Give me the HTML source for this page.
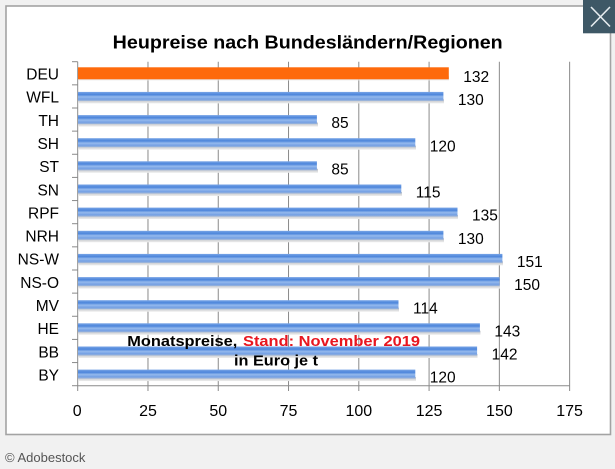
<!DOCTYPE html>
<html>
<head>
<meta charset="utf-8">
<style>
  html,body{margin:0;padding:0;background:#f1f1f1;}
  body{width:615px;height:469px;overflow:hidden;}
  svg{display:block;}
  text{font-family:"Liberation Sans",Arial,sans-serif;}
</style>
</head>
<body>
<svg width="615" height="469" viewBox="0 0 615 469" xmlns="http://www.w3.org/2000/svg">
  <defs>
    <linearGradient id="blue" x1="0" y1="0" x2="0" y2="1">
      <stop offset="0" stop-color="#79a5e6"/>
      <stop offset="0.3" stop-color="#4c85db"/>
      <stop offset="0.55" stop-color="#94b9ed"/>
      <stop offset="0.8" stop-color="#74a0e4"/>
      <stop offset="1" stop-color="#9fb6d8"/>
    </linearGradient>
    <linearGradient id="shadow" x1="0" y1="0" x2="0" y2="1">
      <stop offset="0" stop-color="#b9bcc2"/>
      <stop offset="1" stop-color="#eeeeee"/>
    </linearGradient>
  </defs>
  <rect x="0" y="0" width="615" height="469" fill="#f1f1f1"/>
  <!-- chart box -->
  <rect x="6" y="6" width="604.5" height="428.5" fill="#ffffff" stroke="#a3a3a3" stroke-width="1.6"/>

  <!-- title -->
  <text x="112.7" y="48.3" font-size="18" font-weight="bold" fill="#000" textLength="390" lengthAdjust="spacingAndGlyphs">Heupreise nach  Bundesländern/Regionen</text>

  <!-- gridlines -->
  <g stroke="#8a8a8a" stroke-width="1">
    <line x1="147.98" y1="61.7" x2="147.98" y2="391"/>
    <line x1="218.25" y1="61.7" x2="218.25" y2="391"/>
    <line x1="288.53" y1="61.7" x2="288.53" y2="391"/>
    <line x1="358.8" y1="61.7" x2="358.8" y2="391"/>
    <line x1="429.08" y1="61.7" x2="429.08" y2="391"/>
    <line x1="499.35" y1="61.7" x2="499.35" y2="391"/>
    <line x1="569.63" y1="61.7" x2="569.63" y2="391"/>
    <!-- axes -->
    <line x1="77.7" y1="61.7" x2="77.7" y2="391"/>
    <line x1="77.7" y1="385.7" x2="569.63" y2="385.7"/>
    <!-- left ticks -->
    <line x1="72" y1="61.7" x2="77.7" y2="61.7"/>
    <line x1="72" y1="84.84" x2="77.7" y2="84.84"/>
    <line x1="72" y1="107.99" x2="77.7" y2="107.99"/>
    <line x1="72" y1="131.13" x2="77.7" y2="131.13"/>
    <line x1="72" y1="154.27" x2="77.7" y2="154.27"/>
    <line x1="72" y1="177.41" x2="77.7" y2="177.41"/>
    <line x1="72" y1="200.56" x2="77.7" y2="200.56"/>
    <line x1="72" y1="223.7" x2="77.7" y2="223.7"/>
    <line x1="72" y1="246.84" x2="77.7" y2="246.84"/>
    <line x1="72" y1="269.99" x2="77.7" y2="269.99"/>
    <line x1="72" y1="293.13" x2="77.7" y2="293.13"/>
    <line x1="72" y1="316.27" x2="77.7" y2="316.27"/>
    <line x1="72" y1="339.41" x2="77.7" y2="339.41"/>
    <line x1="72" y1="362.56" x2="77.7" y2="362.56"/>
    <line x1="72" y1="385.7" x2="77.7" y2="385.7"/>
  </g>

  <!-- bars -->
  <g>
    <!-- DEU 132 -->
    <rect x="78" y="76.5" width="371" height="4" fill="url(#shadow)" opacity="0.8"/>
    <rect x="78" y="67.3" width="370.8" height="12" fill="#fe6a0c"/>
    <!-- blue bars: centers -->
    <!-- WFL 130 c=96.41 -->
    <rect x="78" y="99.4" width="366" height="4" fill="url(#shadow)"/>
    <rect x="78" y="91.9" width="365.4" height="9" fill="url(#blue)"/>
    <!-- TH 85 c=119.56 -->
    <rect x="78" y="122.6" width="240" height="4" fill="url(#shadow)"/>
    <rect x="78" y="115.1" width="238.9" height="9" fill="url(#blue)"/>
    <!-- SH 120 c=142.7 -->
    <rect x="78" y="145.7" width="338" height="4" fill="url(#shadow)"/>
    <rect x="78" y="138.2" width="337.3" height="9" fill="url(#blue)"/>
    <!-- ST 85 c=165.84 -->
    <rect x="78" y="168.8" width="240" height="4" fill="url(#shadow)"/>
    <rect x="78" y="161.3" width="238.9" height="9" fill="url(#blue)"/>
    <!-- SN 115 c=188.99 -->
    <rect x="78" y="192" width="324" height="4" fill="url(#shadow)"/>
    <rect x="78" y="184.5" width="323.3" height="9" fill="url(#blue)"/>
    <!-- RPF 135 c=212.13 -->
    <rect x="78" y="215.1" width="380" height="4" fill="url(#shadow)"/>
    <rect x="78" y="207.6" width="379.5" height="9" fill="url(#blue)"/>
    <!-- NRH 130 c=235.27 -->
    <rect x="78" y="238.3" width="366" height="4" fill="url(#shadow)"/>
    <rect x="78" y="230.8" width="365.4" height="9" fill="url(#blue)"/>
    <!-- NS-W 151 c=258.41 -->
    <rect x="78" y="261.4" width="425" height="4" fill="url(#shadow)"/>
    <rect x="78" y="253.9" width="424.4" height="9" fill="url(#blue)"/>
    <!-- NS-O 150 c=281.56 -->
    <rect x="78" y="284.6" width="422" height="4" fill="url(#shadow)"/>
    <rect x="78" y="277.1" width="421.6" height="9" fill="url(#blue)"/>
    <!-- MV 114 c=304.7 -->
    <rect x="78" y="307.7" width="321" height="4" fill="url(#shadow)"/>
    <rect x="78" y="300.2" width="320.5" height="9" fill="url(#blue)"/>
    <!-- HE 143 c=327.84 -->
    <rect x="78" y="330.8" width="402.5" height="4" fill="url(#shadow)"/>
    <rect x="78" y="323.3" width="401.9" height="9" fill="url(#blue)"/>
    <!-- BB 142 c=350.99 -->
    <rect x="78" y="354" width="399.5" height="4" fill="url(#shadow)"/>
    <rect x="78" y="346.5" width="399.1" height="9" fill="url(#blue)"/>
    <!-- BY 120 c=374.13 -->
    <rect x="78" y="377.1" width="338" height="4" fill="url(#shadow)"/>
    <rect x="78" y="369.6" width="337.3" height="9" fill="url(#blue)"/>
  </g>

  <!-- category labels -->
  <g font-size="15.5" fill="#000" text-anchor="end">
    <text x="59" y="79.5">DEU</text>
    <text x="59" y="102.7">WFL</text>
    <text x="59" y="125.8">TH</text>
    <text x="59" y="149">SH</text>
    <text x="59" y="172.1">ST</text>
    <text x="59" y="195.3">SN</text>
    <text x="59" y="218.4">RPF</text>
    <text x="59" y="241.5">NRH</text>
    <text x="59" y="264.7">NS-W</text>
    <text x="59" y="287.8">NS-O</text>
    <text x="59" y="311">MV</text>
    <text x="59" y="334.1">HE</text>
    <text x="59" y="357.3">BB</text>
    <text x="59" y="380.4">BY</text>
  </g>

  <!-- value labels -->
  <g font-size="15.5" fill="#000">
    <text x="463.3" y="81.8">132</text>
    <text x="457.9" y="105">130</text>
    <text x="331.4" y="128.1">85</text>
    <text x="429.8" y="151.3">120</text>
    <text x="331.4" y="174.4">85</text>
    <text x="415.8" y="197.6">115</text>
    <text x="472" y="220.7">135</text>
    <text x="457.9" y="243.8">130</text>
    <text x="516.9" y="267">151</text>
    <text x="514.1" y="290.1">150</text>
    <text x="413" y="313.3">114</text>
    <text x="494.4" y="336.4">143</text>
    <text x="491.6" y="359.6">142</text>
    <text x="429.8" y="382.7">120</text>
  </g>

  <!-- x tick labels -->
  <g font-size="16" fill="#000" text-anchor="middle">
    <text x="77.2" y="416">0</text>
    <text x="148" y="416">25</text>
    <text x="218.3" y="416">50</text>
    <text x="288.5" y="416">75</text>
    <text x="358.8" y="416">100</text>
    <text x="429.1" y="416">125</text>
    <text x="499.4" y="416">150</text>
    <text x="569.6" y="416">175</text>
  </g>

  <!-- annotation -->
  <text x="127.3" y="346" font-size="14.5" font-weight="bold" fill="#000" textLength="110" lengthAdjust="spacingAndGlyphs">Monatspreise,</text>
  <text x="243" y="346" font-size="14.5" font-weight="bold" fill="#e8161f" textLength="177" lengthAdjust="spacingAndGlyphs">Stand: November 2019</text>
  <text x="234" y="365.5" font-size="14.5" font-weight="bold" fill="#000" textLength="84" lengthAdjust="spacingAndGlyphs">in Euro je t</text>

  <!-- close button -->
  <rect x="583" y="0" width="32" height="33.3" fill="#3e5866"/>
  <line x1="591" y1="7" x2="610" y2="26.5" stroke="#e6ecef" stroke-width="1.6"/>
  <line x1="610" y1="7" x2="591" y2="26.5" stroke="#e6ecef" stroke-width="1.6"/>

  <!-- footer -->
  <text x="5" y="462" font-size="13" fill="#555555">© Adobestock</text>
</svg>
</body>
</html>
